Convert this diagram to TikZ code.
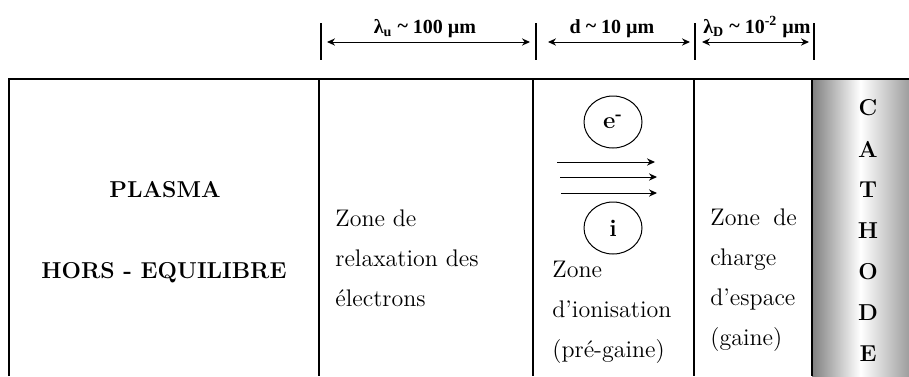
\documentclass[tikz,border=0pt]{standalone}
\usepackage{fontspec}
\usetikzlibrary{arrows.meta,shapes.geometric,positioning}
\newfontfamily\timesfont{Liberation Serif}
\tikzset{
  cell/.style={line width=0.8pt},
  tick/.style={line width=0.6pt},
  dim/.style={line width=0.5pt,{Stealth[length=4pt,width=3.6pt]}-{Stealth[length=4pt,width=3.6pt]}},
  flux/.style={line width=0.5pt,-{Stealth[length=4pt,width=3.6pt]}},
  dimlab/.style={font=\timesfont\bfseries\fontsize{10}{12}\selectfont,inner sep=0pt,anchor=base},
  zone/.style={font=\fontsize{12}{20}\selectfont,align=left,inner sep=0pt,anchor=north west},
  title/.style={font=\bfseries\fontsize{11.5}{12}\selectfont,inner sep=0pt},
  particle/.style={draw,ellipse,line width=0.5pt,minimum width=29pt,minimum height=26pt,inner sep=0pt,font=\bfseries\fontsize{12}{14}\selectfont},
}
\begin{document}
\begin{tikzpicture}[x=0.5pt,y=-0.5pt]
  \useasboundingbox (0,0) rectangle (909,376);
  % echelles de longueur
  \foreach \x [count=\i] in {321,536,695,814} {
    \draw[tick] (\x,23) coordinate (tt\i) -- (\x,60) coordinate (tb\i);
  }
  \coordinate (a1) at (327,42);  \coordinate (b1) at (530,42);
  \coordinate (a2) at (548,42);  \coordinate (b2) at (690,42);
  \coordinate (a3) at (702,42);  \coordinate (b3) at (809,42);
  \draw[dim] (a1) -- (b1);
  \draw[dim] (a2) -- (b2);
  \draw[dim] (a3) -- (b3);
  \node[dimlab] (lu) at (425,33) {λ\textsubscript{u} \raisebox{0.5pt}{\textasciitilde} 100 µm};
  \node[dimlab] (ld) at (612,33) {d \raisebox{0.5pt}{\textasciitilde} 10 µm};
  \node[dimlab] (lD) at (757,33) {λ\textsubscript{D} \raisebox{0.5pt}{\textasciitilde} 10\textsuperscript{-2} µm};
  % cathode
  \shade[left color=black!50,right color=black!38,middle color=white] (812,79) rectangle (909,376);
  % tableau
  \draw[cell] (9,376) -- (9,79) -- (909,79);
  \foreach \x in {319,533,694,812} \draw[cell] (\x,79) -- (\x,376);
  \node[title] (plasma) at (165,190) {PLASMA};
  \node[title] (hors) at (164,273) {HORS - EQUILIBRE};
  \node[zone] (relax) at (335,209) {Zone de\\relaxation des\\électrons};
  \node[particle] (elec) at (613,122) {e\textsuperscript{-}};
  \node[particle] (ion) at (613,228) {i};
  \coordinate (f1) at (557,162); \coordinate (g1) at (655,162);
  \coordinate (f2) at (560,177); \coordinate (g2) at (657,177);
  \coordinate (f3) at (561,193); \coordinate (g3) at (657,193);
  \foreach \i in {1,2,3} \draw[flux] (f\i) -- (g\i);
  \node[zone] (ionis) at (552,261) {Zone\\d'ionisation\\(pré-gaine)};
  \node[zone] (gaine) at (710,208) {Zone\hspace{2.8pt} de\\charge\\d'espace\\(gaine)};
  \foreach \l [count=\i from 0] in {C,A,T,H,O,D,E}
    \node[title] (cath\i) at (868,{108+41*\i}) {\l};
\end{tikzpicture}
\end{document}
